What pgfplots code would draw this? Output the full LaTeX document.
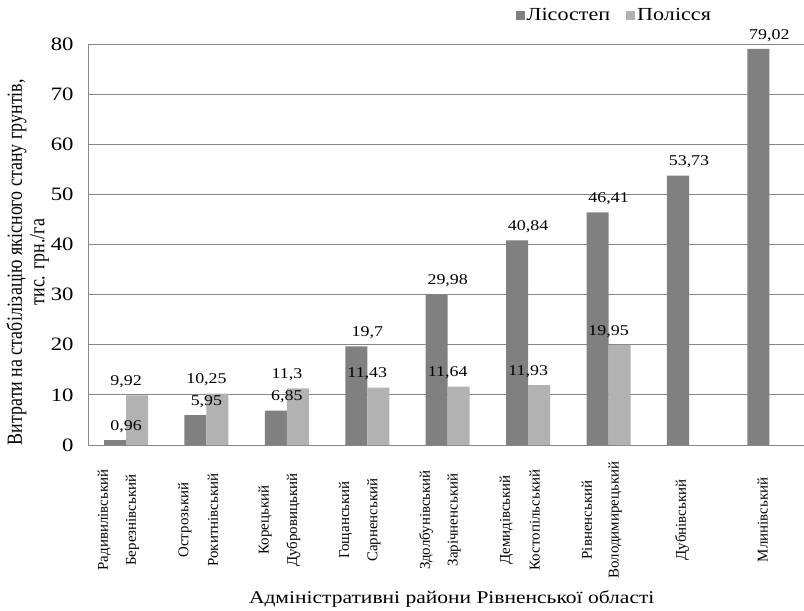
\documentclass[border=0pt]{standalone}
\usepackage{fontspec}
\setmainfont{Liberation Serif}[FakeStretch=1.2]
\newfontfamily\plainserif{Liberation Serif}
\usepackage{graphicx}
\usepackage{pgfplots}
\pgfplotsset{compat=1.18}
\definecolor{darkbar}{RGB}{128,128,128}
\definecolor{lightbar}{RGB}{178,178,178}
\definecolor{gridc}{RGB}{134,134,134}
\newcommand{\xl}[1]{\rotatebox{90}{#1}}
\begin{document}
\begin{tikzpicture}
\begin{axis}[
  at={(0,0)}, anchor=south west, scale only axis,
  width=716bp, height=401bp,
  xmin=-0.473, xmax=8.43, ymin=0, ymax=80,
  ytick={0,10,20,30,40,50,60,70,80},
  ymajorgrids, grid style={gridc, line width=0.8pt},
  axis x line*=bottom, axis y line*=left,
  axis line style={-, gridc, line width=1pt},
  major tick length=0pt,
  /pgf/number format/assume math mode=true,
  yticklabel style={font=\fontsize{19}{21}\selectfont, xshift=-11bp},
  xtick={-0.27,0.08,0.73,1.08,1.73,2.08,2.73,3.08,3.73,4.08,4.73,5.08,5.73,6.08,6.915,7.915},
  xticklabels={\xl{Радивилівський},\xl{Березнівський},\xl{Острозький},\xl{Рокитнівський},\xl{Корецький},\xl{Дубровицький},\xl{Гощанський},\xl{Сарненський},\xl{Здолбунівський},\xl{Зарічненський},\xl{Демидівський},\xl{Костопільський},\xl{Рівненський},\xl{Володимирецький},\xl{Дубнівський},\xl{Млинівський}},
  xticklabel style={anchor=center, yshift=-75bp, font=\plainserif\fontsize{15}{17}\selectfont},
  xlabel={Адміністративні райони Рівненської області},
  xlabel style={at={(axis description cs:0.508,-0.384)}, anchor=center, font=\fontsize{18}{20}\selectfont},
  ylabel={\scalebox{1}[1.2]{\begin{tabular}{@{}c@{}}Витрати на стабілізацію якісного стану грунтів,\\ тис. грн./га\end{tabular}}},
  ylabel style={at={(axis description cs:-0.083,0.456)}, anchor=center, font=\plainserif\fontsize{18}{19}\selectfont},
  legend style={draw=none, fill=none, at={(0.735,1.072)}, anchor=center, legend columns=2,
    font=\fontsize{18.5}{20}\selectfont,
    /tikz/every even column/.append style={column sep=14bp}},
  nodes near coords={\pgfmathprintnumber[use comma, fixed, precision=2, assume math mode=true]{\pgfplotspointmeta}},
  every node near coord/.append style={font=\fontsize{15}{17}\selectfont, anchor=south, yshift=4bp, text=black},
]
\addplot[ybar, bar width=22bp, bar shift=-11bp, fill=darkbar, draw=none,
  legend image code/.code={\fill[darkbar] (0bp,-4.5bp) rectangle (9bp,4.5bp);}]
  coordinates {(0,0.96) (1,5.95) (2,6.85) (3,19.7) (4,29.98) (5,40.84) (6,46.41) (7,53.73) (8,79.02)};
\addlegendentry{Лісостеп}
\addplot[ybar, bar width=22bp, bar shift=11bp, fill=lightbar, draw=none,
  legend image code/.code={\fill[lightbar] (0bp,-4.5bp) rectangle (9bp,4.5bp);}]
  coordinates {(0,9.92) (1,10.25) (2,11.3) (3,11.43) (4,11.64) (5,11.93) (6,19.95)};
\addlegendentry{Полісся}
\end{axis}
\pgfresetboundingbox
\path (-88bp,-166bp) rectangle (716bp,445bp);
\end{tikzpicture}
\end{document}
